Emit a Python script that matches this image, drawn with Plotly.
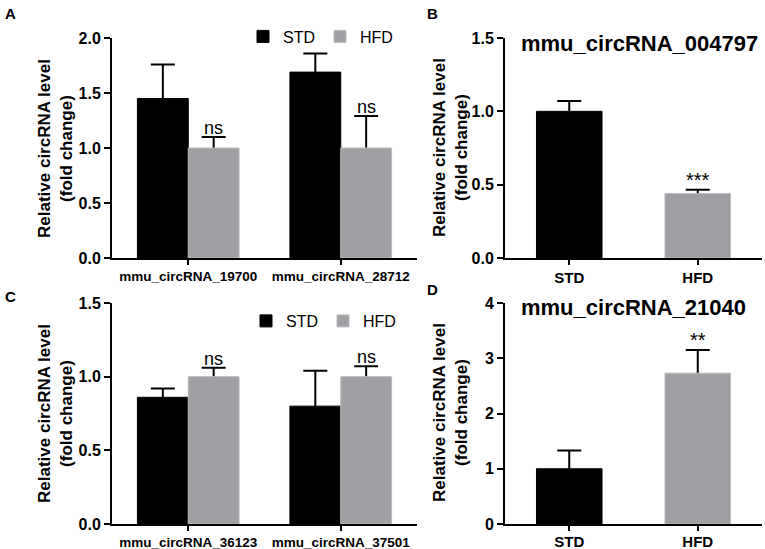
import plotly.graph_objects as go

# panneaux A et C : deux circRNA, STD vs HFD
cats_a = ["mmu_circRNA_19700", "mmu_circRNA_28712"]
std_a = [1.45, 1.69]
std_a_err = [0.31, 0.17]
hfd_a = [1.0, 1.0]
hfd_a_err = [0.10, 0.29]
sig_a = ["ns", "ns"]

cats_c = ["mmu_circRNA_36123", "mmu_circRNA_37501"]
std_c = [0.86, 0.80]
std_c_err = [0.06, 0.24]
hfd_c = [1.0, 1.0]
hfd_c_err = [0.06, 0.07]
sig_c = ["ns", "ns"]

# panneaux B et D : un seul circRNA
groups = ["STD", "HFD"]
vals_b = [1.0, 0.44]
err_b = [0.07, 0.025]
sig_b = ["", "***"]
vals_d = [1.0, 2.73]
err_d = [0.33, 0.42]
sig_d = ["", "**"]

BLACK = "#000000"
GRAY = "#a0a0a4"
GRAY_EDGE = "#bcbcc0"
FONT = "Liberation Sans"
W, H = 765, 549


def px_x(p):
    return p / W


def px_y(p):
    return 1 - p / H


fig = go.Figure()


def err_dict(up, down):
    # barre d'erreur vers le haut seulement (le bas est caché sous la barre)
    return dict(type="data", array=up, arrayminus=down, symmetric=False,
                color=BLACK, thickness=2, width=12)


def add_pair(cats, std, std_err, hfd, hfd_err, xa, ya, legend):
    w = 1 / 3
    for y, e, off, color, edge, name in [(std, std_err, -w, BLACK, BLACK, "STD"),
                                         (hfd, hfd_err, 0, GRAY, GRAY_EDGE, "HFD")]:
        # trace porteuse des barres d'erreur, dessinée sous la vraie barre
        fig.add_trace(go.Bar(x=cats, y=y, offset=off, width=w, xaxis=xa, yaxis=ya,
                             marker=dict(color="rgba(0,0,0,0)"),
                             error_y=err_dict(e, y), showlegend=False, hoverinfo="skip"))
        fig.add_trace(go.Bar(x=cats, y=y, offset=off, width=w, xaxis=xa, yaxis=ya,
                             name=name, legend=legend,
                             marker=dict(color=color, line=dict(color=edge, width=1))))


def add_single(vals, errs, xa, ya):
    w = 0.51
    fig.add_trace(go.Bar(x=groups, y=vals, offset=-w / 2, width=w, xaxis=xa, yaxis=ya,
                         marker=dict(color="rgba(0,0,0,0)"),
                         error_y=err_dict(errs, vals), showlegend=False, hoverinfo="skip"))
    fig.add_trace(go.Bar(x=groups, y=vals, offset=-w / 2, width=w, xaxis=xa, yaxis=ya,
                         showlegend=False,
                         marker=dict(color=[BLACK, GRAY], line=dict(color=[BLACK, GRAY_EDGE], width=1))))


add_pair(cats_a, std_a, std_a_err, hfd_a, hfd_a_err, "x", "y", "legend")
add_single(vals_b, err_b, "x2", "y2")
add_pair(cats_c, std_c, std_c_err, hfd_c, hfd_c_err, "x3", "y3", "legend2")
add_single(vals_d, err_d, "x4", "y4")

dom_left = [px_x(112), px_x(417)]
dom_right = [px_x(505), px_x(762)]
dom_top = [px_y(258), px_y(38)]
dom_bot = [px_y(524), px_y(303)]

xstyle = dict(showline=True, linecolor=BLACK, linewidth=2, ticks="outside", ticklen=5,
              tickwidth=2, tickcolor=BLACK, showgrid=False, zeroline=False,
              range=[-0.5, 1.5], type="category", automargin=False)
ystyle = dict(showline=True, linecolor=BLACK, linewidth=2, ticks="outside", ticklen=6,
              tickwidth=2, tickcolor=BLACK, showgrid=False, zeroline=False, automargin=False,
              tickfont=dict(family=FONT, size=16, color=BLACK, weight="bold"))

small_cat = dict(family=FONT, size=13.5, color=BLACK, weight="bold")
big_cat = dict(family=FONT, size=15, color=BLACK, weight="bold")

fig.update_layout(
    template="none",
    width=W, height=H,
    margin=dict(l=0, r=0, t=0, b=0, pad=0),
    paper_bgcolor="white", plot_bgcolor="white",
    barmode="overlay",
    xaxis=dict(xstyle, domain=dom_left, anchor="y", tickfont=small_cat),
    yaxis=dict(ystyle, domain=dom_top, anchor="x", range=[0, 2], dtick=0.5, tickformat=".1f"),
    xaxis2=dict(xstyle, domain=dom_right, anchor="y2", tickfont=big_cat),
    yaxis2=dict(ystyle, domain=dom_top, anchor="x2", range=[0, 1.5], dtick=0.5, tickformat=".1f"),
    xaxis3=dict(xstyle, domain=dom_left, anchor="y3", tickfont=small_cat),
    yaxis3=dict(ystyle, domain=dom_bot, anchor="x3", range=[0, 1.5], dtick=0.5, tickformat=".1f"),
    xaxis4=dict(xstyle, domain=dom_right, anchor="y4", tickfont=big_cat, ticklabelstandoff=-2),
    yaxis4=dict(ystyle, domain=dom_bot, anchor="x4", range=[0, 4], dtick=1, tickformat="d"),
    legend=dict(orientation="h", x=px_x(243), y=px_y(36.5), xanchor="left", yanchor="middle",
                font=dict(family=FONT, size=16, color=BLACK), bgcolor="rgba(0,0,0,0)"),
    legend2=dict(orientation="h", x=px_x(246), y=px_y(321), xanchor="left", yanchor="middle",
                 font=dict(family=FONT, size=16, color=BLACK), bgcolor="rgba(0,0,0,0)"),
    showlegend=True,
)

notes = []
# titres d'axe y (deux lignes, verticaux)
ytitle = "Relative circRNA level<br>(fold change)"
for xc, yc in [(55, 148), (450, 148), (55, 413), (450, 413)]:
    notes.append(dict(text=ytitle, x=px_x(xc), y=px_y(yc), xref="paper", yref="paper",
                      textangle=-90, showarrow=False, xanchor="center", yanchor="middle",
                      font=dict(family=FONT, size=17, color=BLACK, weight="bold")))

# lettres des panneaux
for letter, xc, yc in [("A", 10, 14), ("B", 432, 14), ("C", 10, 296), ("D", 432, 289)]:
    notes.append(dict(text=letter, x=px_x(xc), y=px_y(yc), xref="paper", yref="paper",
                      showarrow=False, xanchor="center", yanchor="middle",
                      font=dict(family=FONT, size=15, color=BLACK, weight="bold")))

# titres B et D
for title, xc, yc in [("mmu_circRNA_004797", 639, 43), ("mmu_circRNA_21040", 633, 307)]:
    notes.append(dict(text=title, x=px_x(xc), y=px_y(yc), xref="paper", yref="paper",
                      showarrow=False, xanchor="center", yanchor="middle",
                      font=dict(family=FONT, size=22, color=BLACK, weight="bold")))

# étoiles / ns au-dessus des barres HFD
for sig, vals, errs, xr, yr, shift in [(sig_a, hfd_a, hfd_a_err, "x", "y", 1 / 6),
                                       (sig_c, hfd_c, hfd_c_err, "x3", "y3", 1 / 6),
                                       (sig_b, vals_b, err_b, "x2", "y2", 0),
                                       (sig_d, vals_d, err_d, "x4", "y4", 0)]:
    for i, s in enumerate(sig):
        if not s:
            continue
        notes.append(dict(text=s, x=i + shift, y=vals[i] + errs[i], xref=xr, yref=yr,
                          showarrow=False, xanchor="center", yanchor="bottom", yshift=-3,
                          font=dict(family=FONT, size=18 if s == "ns" else 20, color=BLACK)))

fig.update_layout(annotations=notes)

# la page a une marge de 8px par défaut : on la retire pour caler la figure en (0, 0)
fig.write_html("out.html", config={"displayModeBar": False},
               post_script="document.body.style.margin = '0px';")
